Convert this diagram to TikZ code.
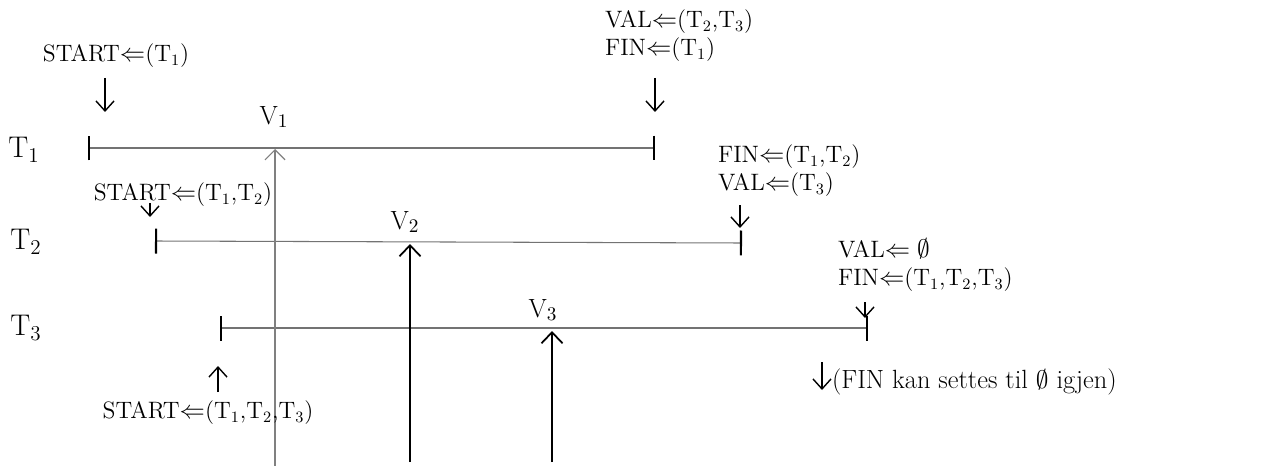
\documentclass[tikz,border=0pt]{standalone}
\usepackage{amsmath,amssymb}
\usepackage{tikz}
\usetikzlibrary{arrows.meta}
\usetikzlibrary{calc}

\tikzset{
  tname/.style = {font=\fontsize{17}{19}\selectfont},
  vname/.style = {font=\fontsize{15}{17}\selectfont},
  note/.style = {font=\fontsize{13.5}{16}\selectfont, align=left, inner sep=1pt},
  tline/.style = {black!55, line width=0.6pt,
    {Bar[width=0.5cm, line width=1.2pt, black]}-{Bar[width=0.5cm, line width=1.2pt, black]}},
  vthin/.style = {black!50, line width=0.7pt, -{Straight Barb[length=2mm, width=4mm]}},
  vthick/.style = {black, line width=1.6pt, -{Straight Barb[length=2.2mm, width=4.2mm, line width=1pt]}},
  pointer/.style = {black, line width=0.8pt, -{Straight Barb[length=2mm, width=3.6mm]}}
}

\begin{document}
\begin{tikzpicture}[x=0.02cm, y=-0.02cm]
\useasboundingbox (0,0) rectangle (1267,466);

    % transactions
\node[tname] (T1) at (24,150) {T$_1$};
\node[tname] (T2) at (26,242) {T$_2$};
\node[tname] (T3) at (26,328) {T$_3$};

\coordinate (t1s) at (88,148);
\coordinate (t1e) at (655,148);
\coordinate (t2s) at (155,241);
\coordinate (t2e) at (742,243);
\coordinate (t3s) at (220,328);
\coordinate (t3e) at (868,328);

\draw[tline] (t1s) -- (t1e);
\draw[tline] (t2s) -- (t2e);
\draw[tline] (t3s) -- (t3e);



    % versions
\coordinate (v1b) at (275,466);
\coordinate (v1t) at (275,149);
\coordinate (v2b) at (410,462);
\coordinate (v2t) at (410,244);
\coordinate (v3b) at (552,462);
\coordinate (v3t) at (552,331);

\draw[vthin] (v1b) -- (v1t);
\draw[vthick] (v2b) -- (v2t);
\draw[vthick] (v3b) -- (v3t);

\node[vname] (V1) at (274,117) {V$_1$};
\node[vname] (V2) at (405,222) {V$_2$};
\node[vname] (V3) at (543,310) {V$_3$};



    % start
\node[note] (s1) at (116,56) {START$\Leftarrow$(T$_1$)};
\node[note] (s2) at (183,195) {START$\Leftarrow$(T$_1$,T$_2$)};
\node[note] (s3) at (208,413) {START$\Leftarrow$(T$_1$,T$_2$,T$_3$)};

\coordinate (s1a) at (105,78);
\coordinate (s1b) at (105,112);
\coordinate (s2a) at (150,203);
\coordinate (s2b) at (150,217);
\coordinate (s3a) at (218,392);
\coordinate (s3b) at (218,366);

\draw[pointer] (s1a) -- (s1b);
\draw[pointer] (s2a) -- (s2b);
\draw[pointer] (s3a) -- (s3b);



    % end
\node[note, anchor=west] (f1) at (603,36) {VAL$\Leftarrow$(T$_2$,T$_3$)\\FIN$\Leftarrow$(T$_1$)};
\node[note, anchor=west] (f2) at (716,171) {FIN$\Leftarrow$(T$_1$,T$_2$)\\VAL$\Leftarrow$(T$_3$)};
\node[note, anchor=west] (f3) at (836,265) {VAL$\Leftarrow\emptyset$\\FIN$\Leftarrow$(T$_1$,T$_2$,T$_3$)};

\coordinate (f1a) at (655,78);
\coordinate (f1b) at (655,112);
\coordinate (f2a) at (740,205);
\coordinate (f2b) at (740,228);
\coordinate (f3a) at (865,302);
\coordinate (f3b) at (865,318);

\draw[pointer] (f1a) -- (f1b);
\draw[pointer] (f2a) -- (f2b);
\draw[pointer] (f3a) -- (f3b);



\node[note, anchor=west, font=\fontsize{15}{17}\selectfont] (rem) at (830,382) {(FIN kan settes til $\emptyset$ igjen)};
\coordinate (rema) at (822,362);
\coordinate (remb) at (822,390);
\draw[pointer] (rema) -- (remb);

\end{tikzpicture}
\end{document}
